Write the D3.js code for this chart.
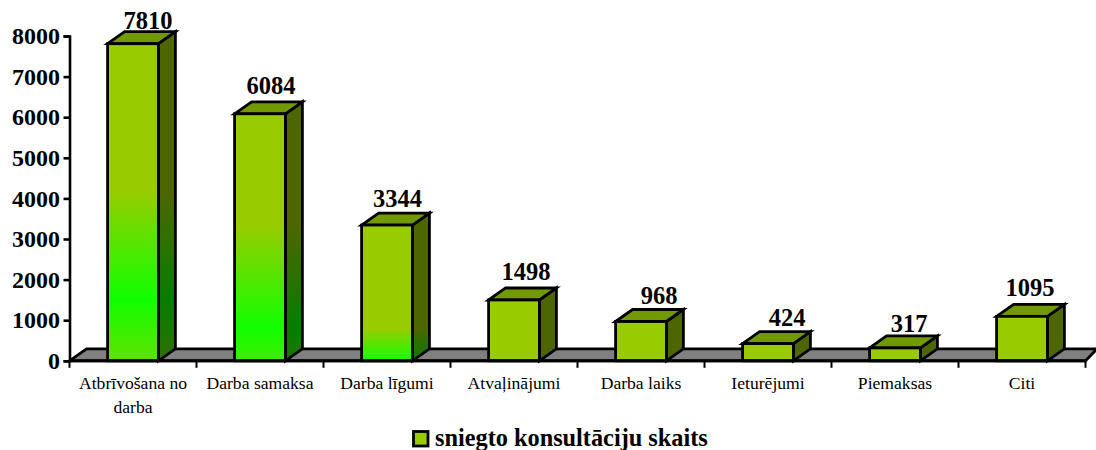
<!DOCTYPE html>
<html><head><meta charset="utf-8">
<script src="https://cdn.jsdelivr.net/npm/d3@7"></script>
<style>
html,body{margin:0;padding:0;background:#fff;overflow:hidden}
svg{display:block}
text{font-family:"Liberation Serif","Times New Roman",serif;fill:#000}
</style></head><body>
<svg id="c" width="1096" height="450"></svg>
<script>
const categories = ["Atbrīvošana no darba","Darba samaksa","Darba līgumi","Atvaļinājumi","Darba laiks","Ieturējumi","Piemaksas","Citi"];
const values = [7810,6084,3344,1498,968,424,317,1095];
const yTicks = [0,1000,2000,3000,4000,5000,6000,7000,8000];
const seriesName = "sniegto konsultāciju skaits";
// value levels of the glow band inside the first three bars: [fade start, brightest]
const glowLevels = [[4200,1530],[3350,815],[800,0],null,null,null,null,null];
const labelNudgeX = [15,11,10.5,12,18,19,14,8];
const labelNudgeY = [-3,-8,-6,-8,-5,-6,-4,-8];

const svg = d3.select("#c");
const axisX = 69.5, baseY = 360.8, dx = 17, dy = 12;
const x = d3.scaleBand().domain(categories).range([axisX, axisX + 127*8]).paddingInner(.6).paddingOuter(.3);
const y = d3.scaleLinear().domain([0,8000]).range([baseY,36]);
const step = x.step();
const lw = 2.8;

// floor
svg.append("path")
  .attr("d",`M${axisX},${baseY}L${axisX+dx},${baseY-dy}L1100,${baseY-dy}L1100,${baseY-15}L${axisX+step*8},${baseY}Z`)
  .attr("fill","#808080").attr("stroke","#000").attr("stroke-width",lw);

// gradients
const defs = svg.append("defs");
function grad(id, level, top, glow){
  const g = defs.append("linearGradient").attr("id",id).attr("gradientUnits","userSpaceOnUse")
    .attr("x1",0).attr("x2",0).attr("y1",y(level[0])).attr("y2",2*y(level[1])-y(level[0]));
  g.append("stop").attr("offset",0).attr("stop-color",top);
  g.append("stop").attr("offset",.5).attr("stop-color",glow);
  g.append("stop").attr("offset",1).attr("stop-color",top);
}
glowLevels.forEach((l,i)=>{ if(l){ grad("f"+i,l,"#99cc00","#11ff00"); grad("s"+i,l,"#4d6600","#087c00"); }});

const bars = svg.selectAll("g.bar").data(categories).join("g").attr("class","bar");
const bw = x.bandwidth();
bars.each(function(c,i){
  const g = d3.select(this), l = x(c), r = l+bw, t = y(values[i]);
  const common = s=>s.attr("stroke","#000").attr("stroke-width",lw).attr("stroke-linejoin","miter");
  common(g.append("path").attr("d",`M${r},${t}L${r+dx},${t-dy}L${r+dx},${baseY-dy}L${r},${baseY}Z`)
    .attr("fill",glowLevels[i]?`url(#s${i})`:"#4d6600"));
  common(g.append("path").attr("d",`M${l},${t}L${l+dx},${t-dy}L${r+dx},${t-dy}L${r},${t}Z`).attr("fill","#739900"));
  common(g.append("rect").attr("x",l).attr("y",t).attr("width",bw).attr("height",baseY-t)
    .attr("fill",glowLevels[i]?`url(#f${i})`:"#99cc00"));
  g.append("text").attr("x",l+bw/2+labelNudgeX[i]).attr("y",t-dy+labelNudgeY[i]).attr("text-anchor","middle")
    .attr("font-size",24.5).attr("font-weight","bold").text(values[i]);
});

// axes
const ya = svg.append("g").attr("transform",`translate(${axisX},0)`)
  .call(d3.axisLeft(y).tickValues(yTicks).tickSize(6).tickPadding(3.5).tickFormat(d3.format("d")));
ya.selectAll("text").attr("font-size",24).attr("font-weight","bold").style("font-family",'"Liberation Serif",serif').attr("fill","#000");
const xa = svg.append("g").attr("transform",`translate(0,${baseY})`);
xa.append("line").attr("x1",axisX).attr("x2",axisX+step*8).attr("stroke","#000").attr("stroke-width",3);
xa.selectAll("line.t").data(d3.range(9)).join("line").attr("class","t")
  .attr("x1",i=>axisX+i*step).attr("x2",i=>axisX+i*step).attr("y1",0).attr("y2",7)
  .attr("stroke","#000").attr("stroke-width",2);
svg.selectAll(".domain,.tick line").attr("stroke","#000").attr("stroke-width",2.6);

// category labels with wrapping
categories.forEach(c=>{
  const t = svg.append("text").attr("text-anchor","middle").attr("font-size",17.6);
  const cx = x(c)+bw/2;
  let line=[], ln=0;
  let ts = t.append("tspan").attr("x",cx).attr("y",389);
  c.split(" ").forEach(w=>{
    line.push(w); ts.text(line.join(" "));
    if(ts.node().getComputedTextLength()>step-8 && line.length>1){
      line.pop(); ts.text(line.join(" ")); line=[w]; ln++;
      ts = t.append("tspan").attr("x",cx).attr("y",389+ln*24).text(w);
    }
  });
});

// legend
svg.append("rect").attr("x",413.5).attr("y",431.5).attr("width",14.5).attr("height",14.5)
  .attr("fill","#99cc00").attr("stroke","#000").attr("stroke-width",2.8);
svg.append("text").attr("x",435).attr("y",446).attr("font-size",24.3).attr("font-weight","bold").text(seriesName);
</script>
</body></html>
